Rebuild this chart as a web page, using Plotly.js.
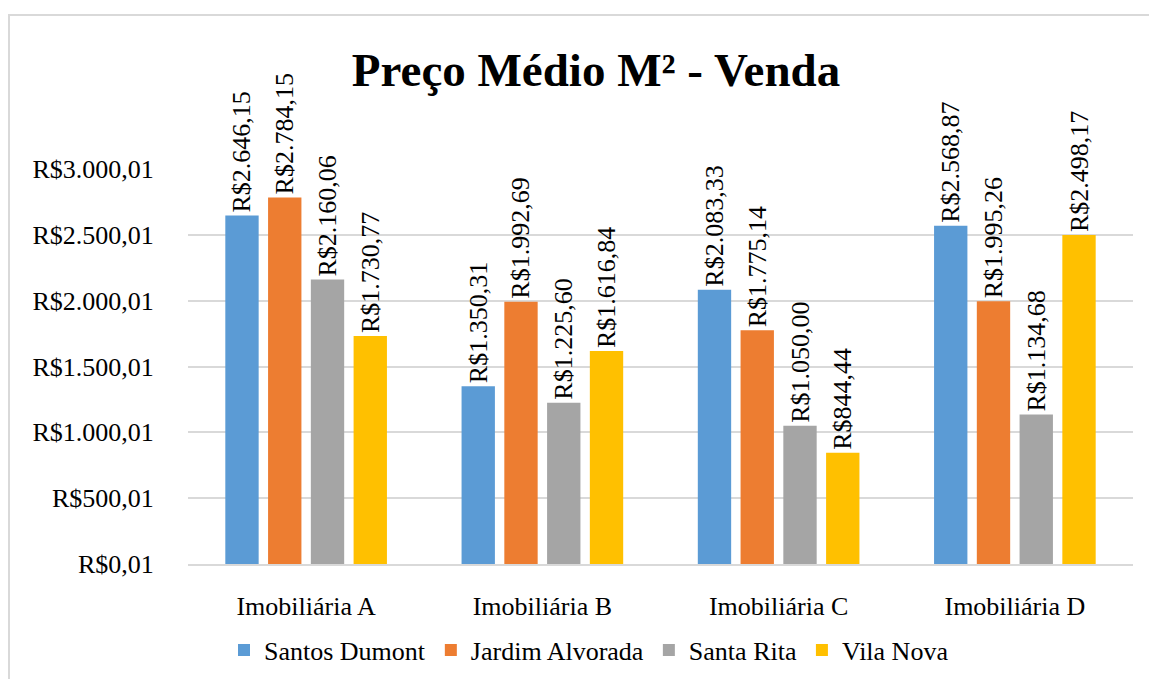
<!DOCTYPE html>
<html>
<head>
<meta charset="utf-8">
<script src="https://cdn.plot.ly/plotly-3.0.1.min.js"></script>
<style>
html,body{margin:0;padding:0;background:#fff;}
#frame{position:absolute;left:8px;top:14px;width:1141px;height:665px;border-top:2px solid #d9d9d9;border-left:2px solid #d9d9d9;box-sizing:border-box;}
#chart{position:absolute;left:0;top:0;width:1149px;height:679px;}
</style>
</head>
<body>
<div id="frame"></div>
<div id="chart"></div>
<script>
const categories = ["Imobiliária A", "Imobiliária B", "Imobiliária C", "Imobiliária D"];
const seriesNames = ["Santos Dumont", "Jardim Alvorada", "Santa Rita", "Vila Nova"];
const santosDumont = [2646.15, 1350.31, 2083.33, 2568.87];
const jardimAlvorada = [2784.15, 1992.69, 1775.14, 1995.26];
const santaRita = [2160.06, 1225.60, 1050.00, 1134.68];
const vilaNova = [1730.77, 1616.84, 844.44, 2498.17];
const tickValues = [0.01, 500.01, 1000.01, 1500.01, 2000.01, 2500.01, 3000.01];
const tickLabels = ["R$0,01", "R$500,01", "R$1.000,01", "R$1.500,01", "R$2.000,01", "R$2.500,01", "R$3.000,01"];
const colors = ["#5B9BD5", "#ED7D31", "#A5A5A5", "#FFC000"];

function brl(v){
  const parts = v.toFixed(2).split(".");
  const intPart = parts[0].replace(/\B(?=(\d{3})+(?!\d))/g, ".");
  return "R$" + intPart + "," + parts[1];
}

const FONT = "Liberation Serif";
const allSeries = [santosDumont, jardimAlvorada, santaRita, vilaNova];
const traces = allSeries.map((vals, i) => ({
  type: "bar",
  name: seriesNames[i],
  x: categories,
  y: vals,
  marker: {color: colors[i]},
  text: vals.map(brl),
  textposition: "outside",
  textangle: -90,
  constraintext: "none",
  cliponaxis: false,
  textfont: {family: FONT, size: 26, color: "#000"},
  outsidetextfont: {family: FONT, size: 26, color: "#000"},
  hoverinfo: "x+y+name"
}));

const layout = {
  width: 1149, height: 679,
  margin: {l: 188, r: 16, t: 169, b: 115},
  paper_bgcolor: "rgba(0,0,0,0)",
  plot_bgcolor: "rgba(0,0,0,0)",
  barmode: "group",
  bargap: 0.276,
  bargroupgap: 0.22,
  font: {family: FONT, size: 26, color: "#000"},
  title: {
    text: "<b>Preço Médio M² - Venda</b>",
    font: {family: FONT, size: 47, color: "#000"},
    xref: "container", x: 596/1149, xanchor: "center",
    yref: "container", y: 1 - 70/679, yanchor: "middle"
  },
  xaxis: {
    type: "category",
    showgrid: false,
    showline: true, linecolor: "#d9d9d9", linewidth: 2,
    ticks: "outside", ticklen: 18, tickcolor: "rgba(0,0,0,0)",
    tickfont: {family: FONT, size: 26, color: "#000"}
  },
  yaxis: {
    range: [0.01, 3000.01],
    tickmode: "array", tickvals: tickValues, ticktext: tickLabels,
    showgrid: true, gridcolor: "#d9d9d9", gridwidth: 1.5,
    zeroline: false, showline: false,
    ticks: "outside", ticklen: 28, tickcolor: "rgba(0,0,0,0)",
    tickfont: {family: FONT, size: 26, color: "#000"}
  },
  legend: {
    orientation: "h",
    xref: "container", x: 589/1149, xanchor: "center",
    yref: "container", y: 1 - 650/679, yanchor: "middle",
    font: {family: FONT, size: 26, color: "#000"},
    bgcolor: "rgba(0,0,0,0)"
  },
  showlegend: true
};

Plotly.newPlot("chart", traces, layout, {displayModeBar: false});
</script>
</body>
</html>
